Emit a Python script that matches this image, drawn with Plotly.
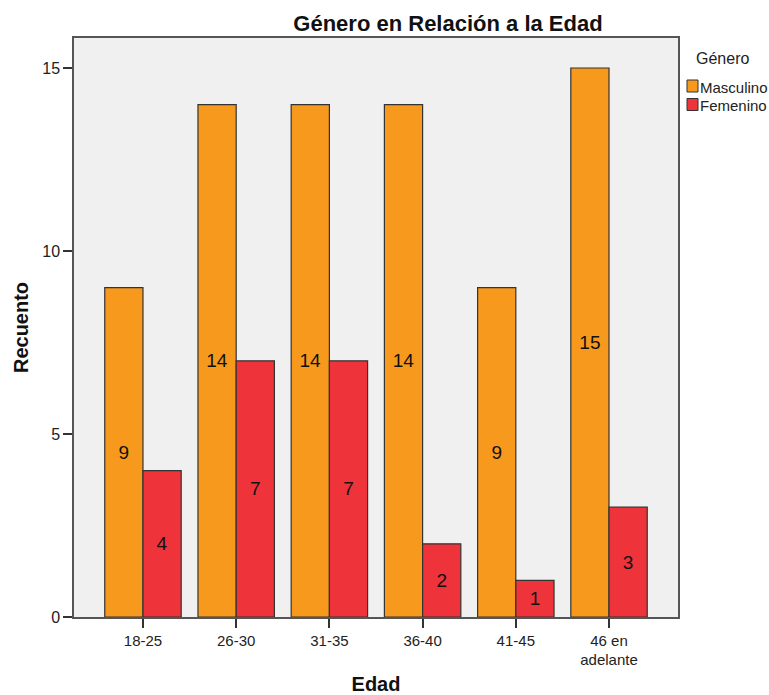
import plotly.graph_objects as go

categories = ["18-25", "26-30", "31-35", "36-40", "41-45", "46 en<br>adelante"]
masculino = [9, 14, 14, 14, 9, 15]
femenino = [4, 7, 7, 2, 1, 3]
series_names = ["Masculino", "Femenino"]
series_colors = ["#F7991D", "#EE333B"]
y_ticks = [0, 5, 10, 15]

W, H = 769, 695
L, R, T, B = 74, W - 678, 38, H - 617
FONT = "Liberation Sans, Arial, sans-serif"

fig = go.Figure()
for name, vals, col in zip(series_names, [masculino, femenino], series_colors):
    fig.add_trace(go.Bar(
        x=categories, y=vals, name=name,
        marker=dict(color=col, line=dict(color="#333333", width=1.2)),
        text=[str(v) for v in vals], textposition="inside",
        insidetextanchor="middle", textangle=0,
        textfont=dict(family=FONT, size=19, color="#111111"),
        showlegend=False,
    ))

fig.update_layout(
    width=W, height=H,
    margin=dict(l=L, r=R, t=T, b=B, pad=0),
    paper_bgcolor="white", plot_bgcolor="#F0F0F0",
    barmode="group", bargap=0.18, bargroupgap=0,
    font=dict(family=FONT, color="#222222"),
    title=dict(text="<b>Género en Relación a la Edad</b>", x=448 / W, xanchor="center",
               y=1 - 23 / H, yanchor="middle", xref="container", yref="container",
               font=dict(family=FONT, size=22, color="#111111")),
    xaxis=dict(
        range=[-0.74, 5.74], showgrid=False, zeroline=False, automargin=False,
        showline=True, linecolor="#555555", linewidth=1.5, mirror=True,
        ticks="outside", ticklen=9, tickwidth=1.5, tickcolor="#333333",
        tickfont=dict(family=FONT, size=15, color="#222222"),
        title=dict(text="<b>Edad</b>", font=dict(family=FONT, size=20, color="#111111"), standoff=32),
    ),
    yaxis=dict(
        range=[0, 15.82], tickvals=y_ticks, showgrid=False, zeroline=False, automargin=False,
        showline=True, linecolor="#555555", linewidth=1.5, mirror=True,
        ticks="outside", ticklen=9, tickwidth=1.5, tickcolor="#333333",
        tickfont=dict(family=FONT, size=16, color="#222222"),
        title=dict(text="<b>Recuento</b>", font=dict(family=FONT, size=20, color="#111111"), standoff=8),
    ),
)

# Legend drawn manually to match the compact layout of the original
pw = W - L - R
ph = H - T - B
fig.add_annotation(text="Género", xref="paper", yref="paper",
                   x=(694 - L) / pw, y=1 - (58 - T) / ph,
                   xanchor="left", yanchor="middle", showarrow=False,
                   font=dict(family=FONT, size=16, color="#222222"))
legend_rows = [86, 104.5]
for name, col, yc in zip(series_names, series_colors, legend_rows):
    fig.add_shape(type="rect", xref="paper", yref="paper",
                  x0=(687 - L) / pw, x1=(698 - L) / pw,
                  y0=1 - (yc + 6 - T) / ph, y1=1 - (yc - 6 - T) / ph,
                  fillcolor=col, line=dict(color="#333333", width=1))
    fig.add_annotation(text=name, xref="paper", yref="paper",
                       x=(698 - L) / pw, y=1 - (yc + 1 - T) / ph,
                       xanchor="left", yanchor="middle", showarrow=False,
                       font=dict(family=FONT, size=15, color="#222222"))

fig.write_html("out.html")
